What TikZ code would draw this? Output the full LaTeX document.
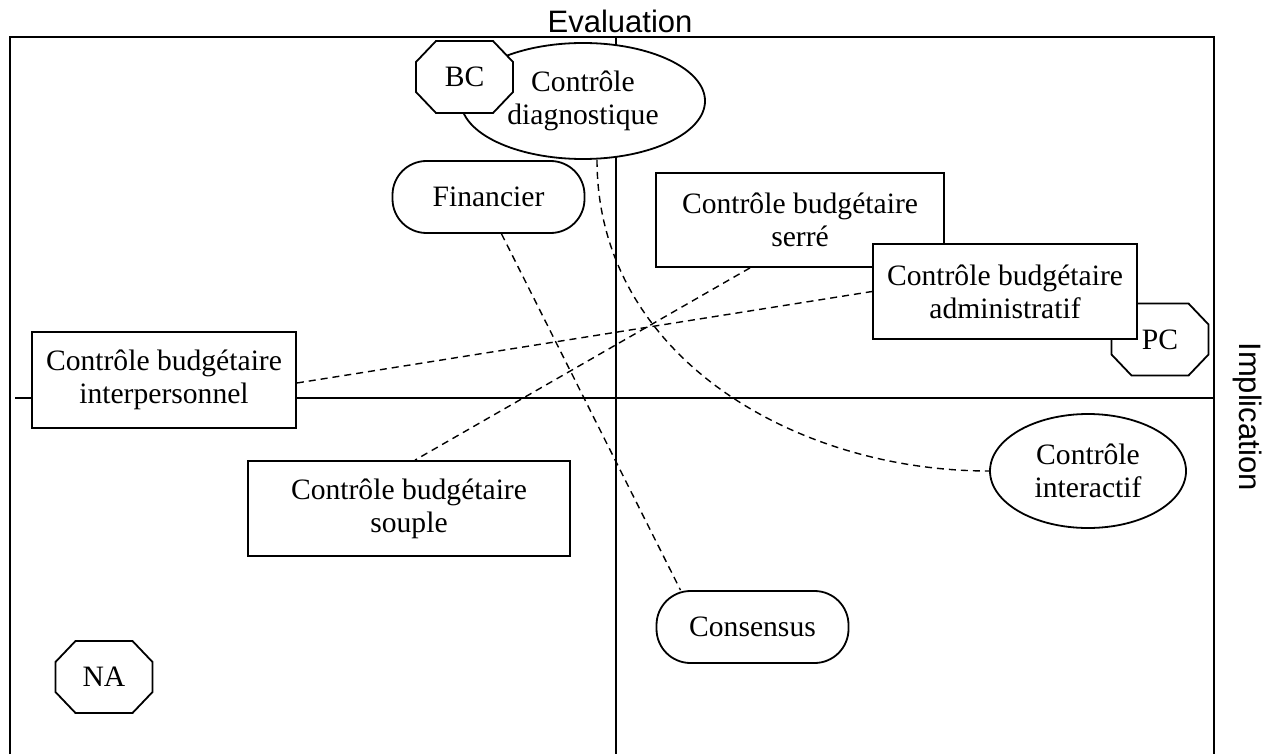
\documentclass[tikz,border=0pt]{standalone}
\usepackage{fontspec}
\setmainfont{Liberation Serif}
\newfontfamily\axisfont{Liberation Sans}
\usepackage{tikz}
\usetikzlibrary{shapes.geometric}

\tikzset{
  octo/.pic={
    \draw[fill=white, line width=0.9pt]
      (-14.25pt,18pt) -- (14.25pt,18pt) -- (24.25pt,7.5pt) -- (24.25pt,-7.5pt)
      -- (14.25pt,-18pt) -- (-14.25pt,-18pt) -- (-24.25pt,-7.5pt) -- (-24.25pt,7.5pt) -- cycle;
    \node (-txt) {\tikzpictext};
  }
}

\begin{document}
\begin{tikzpicture}[
  x=0.5pt, y=-0.5pt,
  font=\fontsize{14.8}{16.6}\selectfont,
  box/.style={draw, fill=white, line width=0.9pt, align=center, inner sep=2pt},
  oval/.style={draw, ellipse, fill=white, line width=0.9pt, align=center, inner sep=1pt},
  pill/.style={draw, rounded corners=17pt, fill=white, line width=0.9pt, align=center,
               minimum width=96pt, minimum height=36pt},
  axis/.style={line width=0.8pt},
  link/.style={dashed, dash pattern=on 3.5pt off 2.5pt, line width=0.7pt},
  lbl/.style={font=\axisfont\fontsize{15.5}{18}\selectfont}
]
\useasboundingbox (0,0) rectangle (1272,754);
% frame and axes
\draw[line width=1pt] (10,754) -- (10,37) -- (1214,37) -- (1214,754);
\draw[axis] (616,37) -- (616,754);
\draw[axis] (15,398) -- (1214,398);
% quadrant nodes
\node[oval, minimum width=122pt, minimum height=58pt] (diag) at (583,101) {Contrôle\\diagnostique};
\pic[pic text=BC] (bc) at (464.5,77) {octo};
\node[pill] (fin) at (488.5,197) {Financier};
\node[box, minimum width=144pt, minimum height=47pt] (serre) at (800,220) {Contrôle budgétaire\\serré};
\pic[pic text=PC] (pc) at (1160,339.5) {octo};
\node[box, minimum width=132pt, minimum height=47.5pt] (admin) at (1005,291.5) {Contrôle budgétaire\\administratif};
\node[box, minimum width=132pt, minimum height=48pt] (interp) at (164,380) {Contrôle budgétaire\\interpersonnel};
\node[box, minimum width=161pt, minimum height=47.5pt] (souple) at (409,508.5) {Contrôle budgétaire\\souple};
\node[oval, minimum width=98pt, minimum height=57pt] (inter) at (1088,471) {Contrôle\\interactif};
\node[pill] (cons) at (752.5,627) {Consensus};
\pic[pic text=NA] (na) at (104,677) {octo};
% dashed links
\draw[link] ([xshift=6.5pt]fin.south) -- ([xshift=-36pt]cons.north);
\draw[link] ([xshift=7pt]diag.south) to[out=-90, in=180] (inter.west);
\draw[link] ([xshift=-25pt]serre.south) -- ([xshift=3pt]souple.north);
\draw[link] ([yshift=-1.5pt]interp.east) -- (admin.west);
% axis titles
\node[lbl, anchor=base] (eval) at (620,33) {Evaluation};
\node[lbl, anchor=base, rotate=-90] (impl) at (1239,416.5) {Implication};
\end{tikzpicture}
\end{document}
